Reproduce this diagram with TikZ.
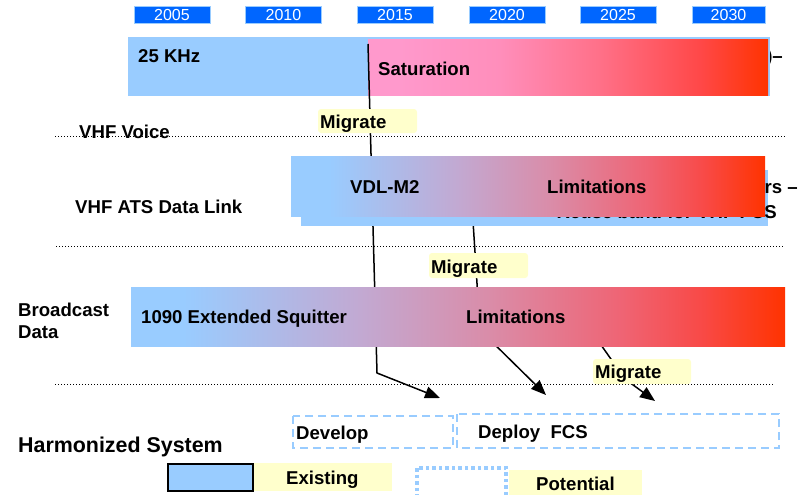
\documentclass[tikz,border=0pt]{standalone}
\usepackage{fontspec}
\setmainfont{Liberation Sans}
\usetikzlibrary{arrows.meta}

\definecolor{skyblue}{HTML}{99CCFF}
\definecolor{yearblue}{HTML}{0066FF}
\definecolor{notepad}{HTML}{FFFFCC}
\definecolor{alarmred}{HTML}{FF3300}
\definecolor{pinkA}{HTML}{FF99CC}
\definecolor{pinkB}{HTML}{FF8EBB}
\definecolor{pinkC}{HTML}{FF7088}
\definecolor{pinkD}{HTML}{FF4848}
\definecolor{mixA}{HTML}{C2A9D2}
\definecolor{mixB}{HTML}{DA8CA8}
\definecolor{mixC}{HTML}{EF6474}
\definecolor{mixD}{HTML}{F84A48}

% blue-to-red fade for the data link bars (path spans 25bp..75bp)
\pgfdeclarehorizontalshading{bluetored}{100bp}{%
  color(0bp)=(skyblue); color(25bp)=(skyblue); color(29bp)=(skyblue);
  color(42.5bp)=(mixA); color(52.5bp)=(mixB); color(62.5bp)=(mixC);
  color(68.5bp)=(mixD); color(75bp)=(alarmred); color(100bp)=(alarmred)}
% pink-to-red fade for the saturation bar
\pgfdeclarehorizontalshading{pinktored}{100bp}{%
  color(0bp)=(pinkA); color(25bp)=(pinkA); color(29bp)=(pinkA);
  color(41.5bp)=(pinkB); color(54bp)=(pinkC); color(66.5bp)=(pinkD);
  color(75bp)=(alarmred); color(100bp)=(alarmred)}

\tikzset{
  lbl/.style={font=\fontsize{18.6}{22}\selectfont\bfseries, inner sep=0pt, anchor=base west},
  lble/.style={lbl, anchor=base east},
  yearbox/.style={fill=yearblue, draw=skyblue, line width=0.8pt, text=white,
    font=\fontsize{16}{18}\selectfont, minimum width=76pt, minimum height=17pt, inner sep=0pt},
  tag/.style={fill=notepad, rounded corners=3pt},
  sepline/.style={line width=1pt, dash pattern=on 1pt off 2pt},
  flow/.style={line width=1.5pt, -{Triangle[length=15pt,width=12pt]}},
  planned/.style={draw=skyblue, line width=2.5pt, dash pattern=on 8pt off 5pt},
}

\begin{document}
\begin{tikzpicture}[x=1pt,y=-1pt]
\useasboundingbox (0,0) rectangle (803,495);

% timeline
\node[yearbox] (y2005) at (172,14.5) {2005};
\node[yearbox] (y2010) at (283.5,14.5) {2010};
\node[yearbox] (y2015) at (395,14.5) {2015};
\node[yearbox] (y2020) at (507,14.5) {2020};
\node[yearbox] (y2025) at (618,14.5) {2025};
\node[yearbox, minimum width=73pt] (y2030) at (728.5,14.5) {2030};

% VHF voice band
\node[lble] (voicetail) at (783,63) {)–};
\fill[skyblue] (128,37) rectangle (770,96);
\path[shading=pinktored] (368,40) rectangle (768,95);
\node[lbl] (khz) at (138,63) {25 KHz};
\node[lbl] (sat) at (378,75) {Saturation};

% separators
\draw[sepline] (55,136) coordinate (s1a) -- (786,136) coordinate (s1b);
\draw[sepline] (56,246) coordinate (s2a) -- (783,246) coordinate (s2b);
\draw[sepline] (55,384) coordinate (s3a) -- (773,384) coordinate (s3b);

% migration paths
\coordinate (p1a) at (368,44);
\coordinate (p1b) at (377,373);
\coordinate (p1c) at (440,398);
\draw[flow] (p1a) -- (p1b) -- (p1c);
\coordinate (p2a) at (471,190);
\coordinate (p2b) at (480,330);
\coordinate (p2c) at (546,395);
\draw[flow] (p2a) -- (p2b) -- (p2c);

\fill[tag] (318,109) rectangle (417,133);
\node[lbl] (mig1) at (320,128) {Migrate};

\node[lbl] (voice) at (79,138) {VHF Voice};
\node[lbl] (ats) at (75,213) {VHF ATS Data Link};

% VHF ATS data link bars
\fill[skyblue] (301,170) rectangle (768,226);
\node[lble] (reuse1) at (798,193) {rs –};
\node[lble] (reuse2) at (777,218) {Reuse band for VHF FCS};
\path[shading=bluetored] (291,156) rectangle (765,216);
\node[lbl] (vdl) at (350,193) {VDL-M2};
\node[lbl] (lim1) at (547,193) {Limitations};

\fill[tag] (429,253) rectangle (528,278);
\node[lbl] (mig2) at (431,273) {Migrate};

% broadcast data bar
\coordinate (p3a) at (594,335);
\coordinate (p3b) at (625,379);
\coordinate (p3c) at (655,401);
\draw[flow] (p3a) -- (p3b) -- (p3c);
\node[lbl] (bc1) at (18,316) {Broadcast};
\node[lbl] (bc2) at (18,338) {Data};
\path[shading=bluetored] (131,287) rectangle (785,346);
\node[lbl] (es) at (141,323) {1090 Extended Squitter};
\node[lbl] (lim2) at (466,323) {Limitations};

\fill[tag] (593,359) rectangle (691,384);
\node[lbl] (mig3) at (595,378) {Migrate};

% harmonized system
\node[lbl, font=\fontsize{21.4}{25}\selectfont\bfseries] (harm) at (18,452) {Harmonized System};
\draw[planned] (293,416) rectangle (453,448);
\draw[planned] (457,414) rectangle (779,448);
\node[lbl] (dev) at (296,439) {Develop};
\node[lbl] (dep) at (478,438) {Deploy\ \ FCS};

% legend
\fill[notepad] (253,463) rectangle (392,491);
\draw[fill=skyblue, line width=2pt] (168,464) rectangle (253,491);
\node[lbl] (exist) at (286,484) {Existing};
\draw[skyblue, line width=3.5pt, dash pattern=on 3.5pt off 3pt] (417,468) rectangle (506,502);
\fill[notepad] (509,470) rectangle (642,500);
\node[lbl] (pot) at (536,490) {Potential};
\end{tikzpicture}
\end{document}
